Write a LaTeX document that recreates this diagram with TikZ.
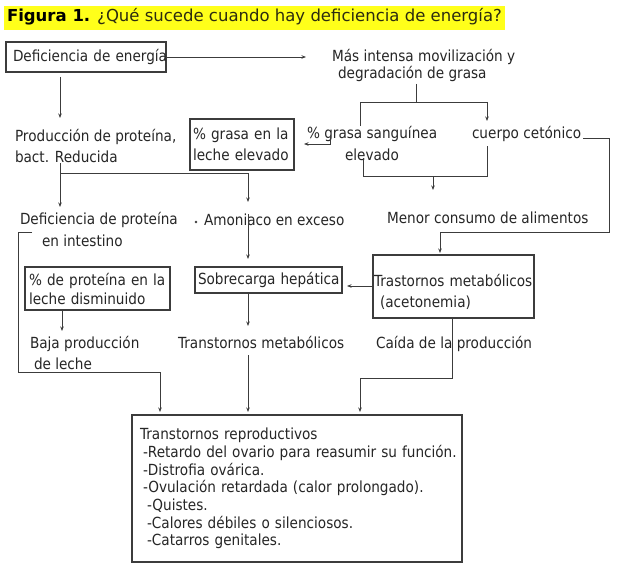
\documentclass[tikz,border=0pt]{standalone}
\usepackage{fontspec}
\setmainfont{Liberation Sans}
\newfontfamily\bodyfont[FakeStretch=0.89]{DejaVu Sans}
\newfontfamily\titlefont{DejaVu Sans}
\usetikzlibrary{arrows.meta}
\definecolor{hl}{HTML}{FFFF1A}
\definecolor{ln}{HTML}{3C3C3C}
\definecolor{tx}{HTML}{262626}
\definecolor{tt}{HTML}{2B2B10}
\begin{document}
\begin{tikzpicture}[x=1pt,y=-1pt,
  every node/.style={inner sep=0pt, outer sep=0pt, text=tx, font=\bodyfont\fontsize{15.3}{21}\selectfont},
  lbl/.style={anchor=base west, align=left},
  boxed/.style={draw=ln, line width=1.2pt, anchor=north west, align=left},
  conn/.style={draw=ln, line width=0.9pt},
  arr/.style={conn, -{Stealth[length=4.5pt,width=3.5pt]}},
]
\useasboundingbox (0,0) rectangle (623,575);
\fill[white] (0,0) rectangle (623,575);

% title
\node[anchor=base west, fill=hl, inner xsep=3pt, inner ysep=3.5pt, text height=12.5pt, text depth=4.5pt,
      font=\titlefont\fontsize{16.5}{20}\selectfont, text=tt] (title) at (4,22)
  {{\bfseries\color{black}Figura 1.} ¿Qué sucede cuando hay deficiencia de energía?};

% boxes
\node[boxed, minimum width=160pt, minimum height=30pt, text width=146pt, inner xsep=7pt] (energia) at (6,42) {\mbox{Deficiencia de energía}};
\node[boxed, minimum width=104pt, minimum height=51pt, text width=98pt, inner xsep=3pt] (grasa) at (190,119) {\mbox{\% grasa en la}\\\mbox{leche elevado}};
\node[boxed, minimum width=145pt, minimum height=43pt, text width=137pt, inner xsep=4pt] (protleche) at (25,267) {\mbox{\% de proteína en la}\\[-2pt]\mbox{leche disminuido}};
\node[boxed, minimum width=147pt, minimum height=26pt, text width=141pt, inner xsep=3pt] (sobre) at (195,267) {\mbox{Sobrecarga hepática}};
\node[boxed, minimum width=161pt, minimum height=63pt, text width=159pt, inner xsep=1pt] (trast) at (373,255) {\rule{0pt}{23pt}\mbox{Trastornos metabólicos}\\\hspace*{6pt}\mbox{(acetonemia)}};
\node[boxed, minimum width=330pt, minimum height=147pt, text width=314pt, inner xsep=8pt,
      font=\bodyfont\fontsize{15.3}{17.7}\selectfont] (repro) at (132,415)
  {\mbox{Transtornos reproductivos}\\
   \hspace*{3pt}\mbox{-Retardo del ovario para reasumir su función.}\\
   \hspace*{3pt}\mbox{-Distrofia ovárica.}\\
   \hspace*{3pt}\mbox{-Ovulación retardada (calor prolongado).}\\
   \hspace*{7pt}\mbox{-Quistes.}\\
   \hspace*{7pt}\mbox{-Calores débiles o silenciosos.}\\
   \hspace*{7pt}\mbox{-Catarros genitales.}};

% plain labels (anchor at the baseline of the last line)
\node[lbl] (mov) at (332,79) {Más intensa movilización y\\[-4pt]\hspace*{6pt}degradación de grasa};
\node[lbl] (prod) at (15,162) {Producción de proteína,\\bact. Reducida};
\node[lbl] (sang) at (307,160) {\% grasa sanguínea\\\hspace*{38pt}elevado};
\node[lbl] (cuerpo) at (472,139) {cuerpo cetónico};
\node[lbl] (defprot) at (20,246) {Deficiencia de proteína\\[1pt]\hspace*{22pt}en intestino};
\node[lbl] (amon) at (204,225) {Amoniaco en exceso};
\node[lbl] (menor) at (387,223) {Menor consumo de alimentos};
\node[lbl] (baja) at (30,369) {Baja producción\\\hspace*{4pt}de leche};
\node[lbl] (transmet) at (178,348) {Transtornos metabólicos};
\node[lbl] (caida) at (376,348) {Caída de la producción};

% coordinates
\coordinate (a1) at (306,57);
\coordinate (b1) at (60,77);   \coordinate (b2) at (60,118);
\coordinate (c1) at (416,84);  \coordinate (c2) at (416,102);
\coordinate (c3) at (360,126); \coordinate (c4) at (360,102);
\coordinate (c5) at (487,102); \coordinate (c6) at (487,121);
\coordinate (d1) at (330,136); \coordinate (d2) at (330,144); \coordinate (d3) at (304,144);
\coordinate (e1) at (363,158); \coordinate (e2) at (363,176); \coordinate (e3) at (487,176); \coordinate (e4) at (487,146);
\coordinate (e5) at (433,176); \coordinate (e6) at (433,190);
\coordinate (f1) at (583,138); \coordinate (f2) at (609,138); \coordinate (f3) at (609,232); \coordinate (f4) at (440,232); \coordinate (f5) at (440,253);
\coordinate (g1) at (60,163);  \coordinate (g2) at (60,207);
\coordinate (g3) at (60,173);  \coordinate (g4) at (248,173); \coordinate (g5) at (248,202);
\coordinate (h1) at (248,214); \coordinate (h2) at (248,259);
\coordinate (i1) at (32,232);  \coordinate (i2) at (18,232); \coordinate (i3) at (18,372); \coordinate (i4) at (160,372); \coordinate (i5) at (160,412);
\coordinate (j1) at (62,310);  \coordinate (j2) at (62,331);
\coordinate (k1) at (373,286); \coordinate (k2) at (347,286);
\coordinate (l1) at (248,293); \coordinate (l2) at (248,326);
\coordinate (m1) at (248,355); \coordinate (m2) at (248,412);
\coordinate (n1) at (452,318); \coordinate (n2) at (452,378); \coordinate (n3) at (360,378); \coordinate (n4) at (360,412);

% connectors
\draw[arr] (energia.east) -- (a1);
\draw[arr] (b1) -- (b2);
\draw[conn] (c1) -- (c2);
\draw[conn] (c3) -- (c4) -- (c5);
\draw[arr] (c5) -- (c6);
\draw[arr] (d1) -- (d2) -- (d3);
\draw[conn] (e1) -- (e2) -- (e3) -- (e4);
\draw[arr] (e5) -- (e6);
\draw[arr] (f1) -- (f2) -- (f3) -- (f4) -- (f5);
\draw[arr] (g1) -- (g2);
\draw[arr] (g3) -- (g4) -- (g5);
\draw[arr] (h1) -- (h2);
\draw[arr] (i1) -- (i2) -- (i3) -- (i4) -- (i5);
\draw[arr] (j1) -- (j2);
\draw[arr] (k1) -- (k2);
\draw[arr] (l1) -- (l2);
\draw[arr] (m1) -- (m2);
\draw[arr] (n1) -- (n2) -- (n3) -- (n4);
\fill[ln] (196,222) circle (1.4pt);
\end{tikzpicture}
\end{document}
